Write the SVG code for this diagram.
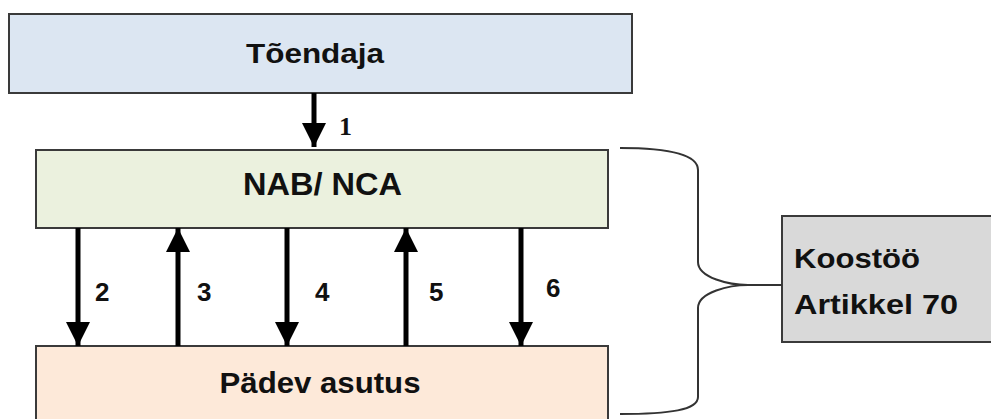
<svg xmlns="http://www.w3.org/2000/svg" width="991" height="419" viewBox="0 0 991 419">
<defs>
<style>
.box{stroke:#3a3a3a;stroke-width:2}
.lbl{font-family:"Liberation Sans",Arial,sans-serif;font-weight:bold;fill:#111}
.num{font-family:"Liberation Sans",Arial,sans-serif;font-weight:bold;font-size:26px;fill:#111}
.arr{stroke:#000;stroke-width:5;fill:none}
.brace{stroke:#333;stroke-width:2;fill:none}
</style>
<marker id="ah" markerUnits="userSpaceOnUse" markerWidth="24" markerHeight="24" viewBox="0 0 24 24" refX="24" refY="12" orient="auto">
<path d="M0,0 L24,12 L0,24 Z" fill="#000"/>
</marker>
</defs>
<rect width="991" height="419" fill="#fff"/>
<g id="toendaja">
<rect class="box" x="9" y="14" width="623" height="79" fill="#dce6f2"/>
<text class="lbl" x="315" y="63" font-size="28" text-anchor="middle" textLength="138" lengthAdjust="spacingAndGlyphs">Tõendaja</text>
</g>
<g id="nab">
<rect class="box" x="36" y="150" width="572" height="78" fill="#ebf1de"/>
<text class="lbl" x="322.5" y="195" font-size="31" text-anchor="middle" textLength="159" lengthAdjust="spacingAndGlyphs">NAB/ NCA</text>
</g>
<g id="padev">
<rect class="box" x="36" y="346" width="572" height="90" fill="#fde9d9"/>
<text class="lbl" x="320" y="393" font-size="30" text-anchor="middle" textLength="201" lengthAdjust="spacingAndGlyphs">Pädev asutus</text>
</g>
<g id="koostoo">
<rect class="box" x="782" y="216" width="230" height="126" fill="#d9d9d9"/>
<text class="lbl" x="794" y="268" font-size="28" textLength="126" lengthAdjust="spacingAndGlyphs">Koostöö</text>
<text class="lbl" x="794" y="314" font-size="28" textLength="164" lengthAdjust="spacingAndGlyphs">Artikkel 70</text>
</g>
<g id="connectors">
<line class="arr" x1="314" y1="93" x2="314" y2="147" marker-end="url(#ah)"/>
<line class="arr" x1="78" y1="228" x2="78" y2="346" marker-end="url(#ah)"/>
<line class="arr" x1="178" y1="346" x2="178" y2="228" marker-end="url(#ah)"/>
<line class="arr" x1="287" y1="228" x2="287" y2="346" marker-end="url(#ah)"/>
<line class="arr" x1="406" y1="346" x2="406" y2="228" marker-end="url(#ah)"/>
<line class="arr" x1="521" y1="228" x2="521" y2="346" marker-end="url(#ah)"/>
<path class="brace" d="M620,148 C670,148 698,155 698,170 L698,262 C698,278 730,285 748,285 L782,285 M748,285 C730,285 698,292 698,308 L698,397 C698,410 670,414 620,414"/>
<text x="339" y="135" font-family="'Liberation Serif','Times New Roman',serif" font-weight="bold" font-size="26" fill="#111">1</text>
<text class="num" x="95" y="301">2</text>
<text class="num" x="197" y="301">3</text>
<text class="num" x="315" y="301">4</text>
<text class="num" x="429" y="301">5</text>
<text class="num" x="546" y="297">6</text>
</g>
</svg>
